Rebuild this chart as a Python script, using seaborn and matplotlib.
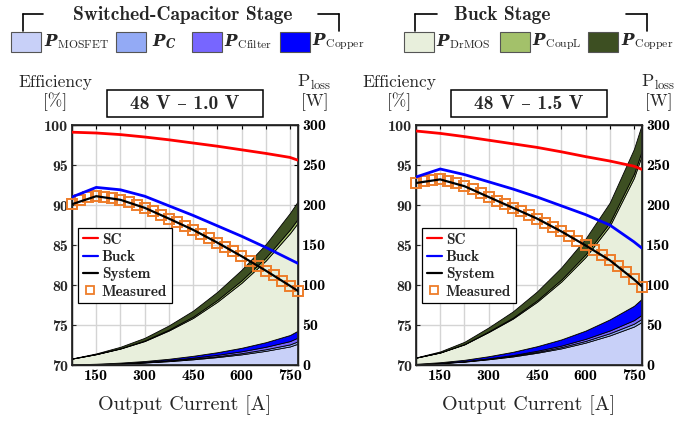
import matplotlib
matplotlib.use("Agg")
import matplotlib.pyplot as plt
import seaborn as sns
from matplotlib.lines import Line2D
from matplotlib.patches import Rectangle

# ---------------- data ----------------
I_pts = [75, 150, 225, 300, 375, 450, 525, 600, 675, 750, 775]
I_meas = [75, 100, 125, 150, 175, 200, 225, 250, 275, 300, 325, 350, 375, 400, 425,
          450, 475, 500, 525, 550, 575, 600, 625, 650, 675, 700, 725, 750, 775]

# 48 V - 1.0 V
sc_eff_10 = [99.1, 99.0, 98.8, 98.5, 98.15, 97.75, 97.35, 96.9, 96.45, 95.95, 95.6]
buck_eff_10 = [91.0, 92.2, 91.9, 91.1, 89.9, 88.7, 87.4, 86.1, 84.7, 83.2, 82.7]
sys_eff_10 = [90.1, 91.1, 90.65, 89.65, 88.3, 86.9, 85.3, 83.6, 81.8, 79.9, 79.25]
meas_10 = [90.1, 90.6, 90.95, 91.1, 91.0, 90.85, 90.65, 90.35, 90.0, 89.65, 89.2, 88.75,
           88.3, 87.85, 87.4, 86.9, 86.4, 85.85, 85.3, 84.75, 84.2, 83.6, 83.0, 82.4,
           81.8, 81.2, 80.55, 79.9, 79.25]
mosfet_10 = [0.45, 1.0, 1.9, 3.1, 4.8, 7.1, 9.9, 13.3, 17.7, 23.2, 26.7]
pc_10 = [0.05, 0.1, 0.2, 0.35, 0.55, 0.8, 1.1, 1.5, 2.0, 2.6, 3.0]
cfilt_10 = [0.1, 0.2, 0.35, 0.55, 0.85, 1.25, 1.75, 2.35, 3.1, 4.1, 4.7]
cusc_10 = [0.1, 0.3, 0.55, 1.0, 1.6, 2.35, 3.25, 4.35, 5.7, 7.6, 8.6]
drmos_10 = [7.25, 11.9, 17.55, 24.95, 35.35, 47.4, 63.1, 81.3, 102.0, 127.2, 135.0]
coupl_10 = [0.05, 0.2, 0.4, 0.75, 1.2, 1.7, 2.3, 3.0, 3.8, 4.7, 5.0]
cubk_10 = [0.2, 0.8, 1.85, 3.3, 5.15, 7.4, 10.1, 13.2, 16.7, 20.6, 22.0]

# 48 V - 1.5 V
sc_eff_15 = [99.25, 98.95, 98.55, 98.1, 97.65, 97.2, 96.65, 96.05, 95.5, 94.85, 94.45]
buck_eff_15 = [93.5, 94.5, 93.8, 92.9, 92.0, 91.0, 89.9, 88.8, 87.5, 85.4, 84.6]
sys_eff_15 = [92.75, 93.2, 92.35, 91.0, 89.65, 88.3, 86.7, 84.95, 83.1, 80.7, 79.8]
meas_15 = [92.7, 92.95, 93.15, 93.2, 93.0, 92.7, 92.35, 91.95, 91.5, 91.0, 90.55, 90.1,
           89.65, 89.2, 88.75, 88.3, 87.8, 87.25, 86.7, 86.15, 85.55, 84.95, 84.35, 83.75,
           83.1, 82.4, 81.6, 80.7, 79.8]
mosfet_15 = [1.0, 2.3, 4.2, 7.2, 10.7, 15.3, 20.8, 28.0, 37.0, 48.1, 54.0]
pc_15 = [0.07, 0.17, 0.32, 0.55, 0.8, 1.15, 1.55, 2.1, 2.75, 3.55, 4.0]
cfilt_15 = [0.08, 0.2, 0.39, 0.65, 1.0, 1.4, 1.9, 2.6, 3.4, 4.45, 5.0]
cusc_15 = [0.35, 0.83, 1.6, 2.6, 4.0, 5.65, 7.75, 10.3, 13.85, 17.9, 20.0]
drmos_15 = [7.64, 12.06, 19.26, 30.23, 41.48, 55.55, 72.38, 91.9, 116.83, 160.0, 180.0]
coupl_15 = [0.05, 0.2, 0.46, 0.82, 1.29, 1.85, 2.52, 3.3, 4.17, 5.15, 5.5]
cubk_15 = [0.31, 1.24, 2.78, 4.95, 7.73, 11.1, 15.1, 19.8, 25.0, 30.9, 33.0]

x_ticks = [150, 300, 450, 600, 750]
eff_ticks = [70, 75, 80, 85, 90, 95, 100]
loss_ticks = [0, 50, 100, 150, 200, 250, 300]

sc_names = [r'$\mathbfit{P}_{\mathrm{MOSFET}}$', r'$\mathbfit{P}_{\mathbfit{C}}$',
            r'$\mathbfit{P}_{\mathrm{Cfilter}}$', r'$\mathbfit{P}_{\mathrm{Copper}}$']
bk_names = [r'$\mathbfit{P}_{\mathrm{DrMOS}}$', r'$\mathbfit{P}_{\mathrm{CoupL}}$',
            r'$\mathbfit{P}_{\mathrm{Copper}}$']
sc_cols = ['#c8d0f8', '#93aaf5', '#7766ff', '#0000ff']
bk_cols = ['#e8efdc', '#a3c16a', '#3d4f22']

# ---------------- style ----------------
sns.set_theme(style='white')
plt.rcParams.update({
    'font.family': ['cmr10', 'DejaVu Serif'],
    'mathtext.fontset': 'custom',
    'mathtext.rm': 'cmr10',
    'mathtext.it': 'cmmi10',
    'mathtext.bf': 'cmb10',
    'mathtext.bfit': 'DejaVu Serif:italic:bold',
    'axes.unicode_minus': False,
})
BOLD = ['cmb10', 'DejaVu Serif']

W, H = 684, 424
fig = plt.figure(figsize=(W / 100, H / 100), dpi=100)
fig.patch.set_facecolor('white')


def fx(p):
    return p / W


def fy(p):
    return 1 - p / H


def panel(left_px, sc, bk, sy, meas, stacks, title):
    ax = fig.add_axes([fx(left_px), fy(365), 226 / W, 240 / H])
    ax.stackplot(I_pts, *stacks, colors=sc_cols + bk_cols, edgecolor='black',
                 linewidth=0.6, zorder=2)
    ax.set_xlim(75, 775)
    ax.set_ylim(0, 300)
    ax.set_xticks(x_ticks)
    ax.set_xticks([225, 375, 525, 675], minor=True)
    ax.set_yticks(loss_ticks)
    ax.grid(True, which='both', color='#d4d4d4', lw=1.0)
    ax.set_axisbelow(True)
    for s in ax.spines.values():
        s.set_color('black')
        s.set_linewidth(1.0)

    ax2 = ax.twinx()
    ax.yaxis.tick_right()
    ax.yaxis.set_label_position('right')
    ax2.yaxis.tick_left()
    ax.tick_params(axis='both', which='both', direction='in', length=3,
                   top=True, bottom=True, width=0.8, colors='black', pad=3,
                   labelsize=11.5)
    for lab in ax.get_xticklabels() + ax.get_yticklabels():
        lab.set_fontfamily(BOLD)
    ax2.set_ylim(70, 100)
    ax2.set_xlim(75, 775)
    ax2.set_yticks(eff_ticks)
    ax2.tick_params(axis='y', direction='in', length=3, width=0.8, pad=3,
                    labelsize=11.5)
    for lab in ax2.get_yticklabels():
        lab.set_fontfamily(BOLD)
    ax2.plot(I_meas, meas, ls='none', marker='s', ms=7, mfc='none',
             mec='#ee7d2a', mew=1.4, clip_on=False, zorder=3)
    sns.lineplot(x=I_pts, y=sc, ax=ax2, color='#ff0000', lw=2.0, sort=False, zorder=4)
    sns.lineplot(x=I_pts, y=bk, ax=ax2, color='#0000ff', lw=2.0, sort=False, zorder=4)
    sns.lineplot(x=I_pts, y=sy, ax=ax2, color='black', lw=1.6, sort=False, zorder=5)
    ax2.set_xlabel('')
    ax2.set_ylabel('')
    handles = [Line2D([], [], color='#ff0000', lw=1.6),
               Line2D([], [], color='#0000ff', lw=1.6),
               Line2D([], [], color='black', lw=1.6),
               Line2D([], [], ls='none', marker='s', ms=6, mfc='none',
                      mec='#ee7d2a', mew=1.3)]
    leg = ax2.legend(handles, ['SC', 'Buck', 'System', 'Measured'],
                     loc='upper left', bbox_to_anchor=(0.027, 0.571),
                     borderaxespad=0, frameon=True, fancybox=False,
                     framealpha=1, edgecolor='black', handlelength=1.0,
                     handletextpad=0.25, labelspacing=0.22, borderpad=0.3,
                     prop={'family': BOLD, 'size': 11})
    leg.get_frame().set_linewidth(0.9)
    leg.set_zorder(10)

    cx = left_px + 113
    fig.text(fx(cx), fy(405), 'Output Current [A]', ha='center', va='center',
             fontsize=14.5)
    fig.text(fx(left_px - 17), fy(82), 'Efficiency', ha='center', va='center',
             fontsize=12.5)
    fig.text(fx(left_px - 17), fy(102), '[%]', ha='center', va='center', fontsize=12.5)
    fig.text(fx(left_px + 242), fy(82), r'$\mathrm{P}_{\mathrm{loss}}$',
             ha='center', va='center', fontsize=13)
    fig.text(fx(left_px + 243), fy(102), '[W]', ha='center', va='center', fontsize=12.5)
    fig.patches.append(Rectangle((fx(left_px + 35), fy(117)), 156 / W, 27 / H,
                                 transform=fig.transFigure, fill=False,
                                 edgecolor='black', lw=1.1))
    fig.text(fx(left_px + 113), fy(104), title, ha='center', va='center',
             fontsize=14, family=BOLD)


panel(72, sc_eff_10, buck_eff_10, sys_eff_10, meas_10,
      [mosfet_10, pc_10, cfilt_10, cusc_10, drmos_10, coupl_10, cubk_10],
      '48 V \u2013 1.0 V')
panel(416, sc_eff_15, buck_eff_15, sys_eff_15, meas_15,
      [mosfet_15, pc_15, cfilt_15, cusc_15, drmos_15, coupl_15, cubk_15],
      '48 V \u2013 1.5 V')


# ---------------- group legends ----------------
def bracket(x0, x1, xv):
    fig.lines.append(Line2D([fx(x0), fx(x1)], [fy(14), fy(14)],
                            transform=fig.transFigure, color='black', lw=1.2))
    fig.lines.append(Line2D([fx(xv), fx(xv)], [fy(14), fy(31)],
                            transform=fig.transFigure, color='black', lw=1.2))


def swatch(x, col, label, tx):
    fig.patches.append(Rectangle((fx(x), fy(52)), 30 / W, 20 / H,
                                 transform=fig.transFigure, facecolor=col,
                                 edgecolor='#555555', lw=0.8))
    fig.text(fx(tx), fy(42), label, ha='left', va='center', fontsize=12)


fig.text(fx(183), fy(15), 'Switched-Capacitor Stage', ha='center', va='center',
         fontsize=14, family=BOLD)
bracket(23, 43, 23)
bracket(318, 339, 339)
for x, c, n, t in zip([11, 116, 192, 280], sc_cols, sc_names, [44, 152, 224, 312]):
    swatch(x, c, n, t)

fig.text(fx(502), fy(15), 'Buck Stage', ha='center', va='center',
         fontsize=14, family=BOLD)
bracket(415, 437, 415)
bracket(626, 647, 647)
for x, c, n, t in zip([404, 500, 588], bk_cols, bk_names, [436, 532, 621]):
    swatch(x, c, n, t)

fig.savefig('out.png', dpi=100, facecolor='white')
